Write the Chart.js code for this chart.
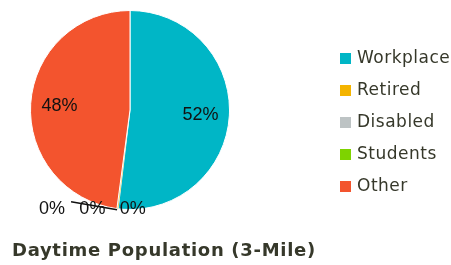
<!DOCTYPE html>
<html>
<head>
<meta charset="utf-8">
<script src="https://cdn.jsdelivr.net/npm/chart.js@4.4.1/dist/chart.umd.min.js"></script>
<style>
  html, body { margin: 0; padding: 0; background: #fff; }
  #wrap { width: 451px; height: 265px; position: relative; }
</style>
</head>
<body>
<div id="wrap"><canvas id="pop"></canvas></div>
<script>
var categories = ['Workplace', 'Retired', 'Disabled', 'Students', 'Other'];
var shares = [51.9, 0.1, 0.05, 0.05, 47.9];
var colors = ['#00b6c6', '#f4b400', '#bdc3c4', '#7ed300', '#f3542e'];
var chartTitle = 'Daytime Population (3-Mile)';

var textColor = '#36382a';

// labels on the slices, small ones pushed below the pie with a leader line
var sliceLabels = {
    id: 'sliceLabels',
    afterDatasetsDraw: function(chart) {
        var ctx = chart.ctx;
        var meta = chart.getDatasetMeta(0);
        var total = shares.reduce(function(a, b) { return a + b; }, 0);
        ctx.save();
        ctx.font = '18px "Liberation Sans", Arial, sans-serif';
        ctx.fillStyle = '#111';
        ctx.textAlign = 'center';
        ctx.textBaseline = 'middle';
        var small = 0;
        meta.data.forEach(function(arc, i) {
            var pct = Math.round(shares[i] / total * 100) + '%';
            var mid = (arc.startAngle + arc.endAngle) / 2;
            if (shares[i] / total > 0.02) {
                var r = arc.outerRadius * 0.71;
                ctx.fillText(pct, arc.x + Math.cos(mid) * r, arc.y + Math.sin(mid) * r + 1);
            } else {
                var ax = arc.x + Math.cos(mid) * arc.outerRadius;
                var ay = arc.y + Math.sin(mid) * arc.outerRadius;
                var lx = ax + 15 - small * 40;
                var ly = ay;
                if (small == 2) {
                    ctx.strokeStyle = '#111';
                    ctx.lineWidth = 1.5;
                    ctx.beginPath();
                    ctx.moveTo(ax, ay + 1);
                    ctx.lineTo(ax - 46, ay - 7);
                    ctx.stroke();
                }
                ctx.fillText(pct, lx, ly);
                small++;
            }
        });
        ctx.restore();
    }
};

// legend on the right and title at the bottom
var sideText = {
    id: 'sideText',
    afterDraw: function(chart) {
        var ctx = chart.ctx;
        ctx.save();
        ctx.textBaseline = 'middle';
        ctx.textAlign = 'left';
        ctx.font = '17px "DejaVu Sans", Verdana, sans-serif';
        ctx.letterSpacing = '0.5px';
        for (var i = 0; i < categories.length; i++) {
            var y = 58 + i * 32;
            ctx.fillStyle = colors[i];
            ctx.fillRect(340, y - 5, 11, 11);
            ctx.fillStyle = textColor;
            ctx.fillText(categories[i], 357, y + 1);
        }
        ctx.font = 'bold 18px "DejaVu Sans", Verdana, sans-serif';
        ctx.letterSpacing = '0.7px';
        ctx.fillText(chartTitle, 12, 251);
        ctx.restore();
    }
};

new Chart(document.getElementById('pop'), {
    type: 'pie',
    data: {
        labels: categories,
        datasets: [{
            data: shares,
            backgroundColor: colors,
            borderColor: '#ffffff',
            borderWidth: [1, 0, 0, 0, 1]
        }]
    },
    options: {
        responsive: true,
        maintainAspectRatio: false,
        animation: false,
        layout: { padding: { left: 30, top: 10, right: 221, bottom: 55 } },
        plugins: {
            legend: { display: false },
            tooltip: { enabled: false }
        }
    },
    plugins: [sliceLabels, sideText]
});
</script>
</body>
</html>
